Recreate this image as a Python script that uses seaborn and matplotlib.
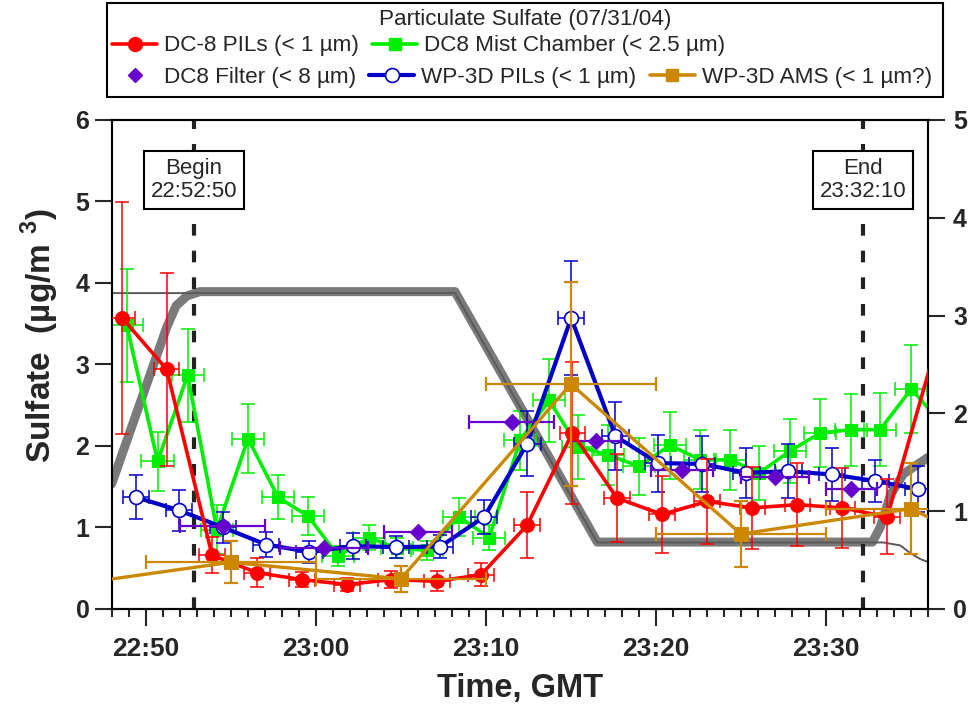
import numpy as np
import pandas as pd
import matplotlib
matplotlib.use("Agg")
import matplotlib.pyplot as plt
import matplotlib.transforms as mtransforms
import seaborn as sns
from matplotlib.lines import Line2D
from matplotlib.patches import Rectangle
from matplotlib.ticker import MultipleLocator, FuncFormatter

# ---------------------------------------------------------------- data
# DC-8 PILS sulfate (ug/m3), < 1 um
dc8_pils_time = ["22:48:37", "22:51:14", "22:53:54", "22:56:33", "22:59:11", "23:01:50",
                 "23:04:26", "23:07:08", "23:09:43", "23:12:26", "23:15:05", "23:17:43",
                 "23:20:22", "23:23:01", "23:25:40", "23:28:19", "23:30:58", "23:33:36",
                 "23:36:40"]
dc8_pils_so4 = [3.57, 2.94, 0.66, 0.445, 0.36, 0.30, 0.36, 0.34, 0.42, 1.03, 2.16, 1.36,
                1.16, 1.32, 1.24, 1.28, 1.24, 1.13, 3.37]
dc8_pils_err = [1.42, 1.18, 0.22, 0.18, 0.09, 0.08, 0.10, 0.12, 0.14, 0.40, 0.87, 0.54,
                0.47, 0.52, 0.50, 0.51, 0.49, 0.46, np.nan]
dc8_pils_halfwin = 0.75  # minutes

# DC-8 mist chamber sulfate, < 2.5 um
mist_time = ["22:48:53", "22:50:42", "22:52:28", "22:54:11", "22:56:01", "22:57:47",
             "22:59:33", "23:01:19", "23:03:08", "23:04:47", "23:06:33", "23:08:26",
             "23:10:12", "23:12:01", "23:13:43", "23:15:26", "23:17:12", "23:19:01",
             "23:20:50", "23:22:36", "23:24:22", "23:26:05", "23:27:54", "23:29:40",
             "23:31:29", "23:33:11", "23:35:01", "23:36:47"]
mist_so4 = [3.48, 1.81, 2.87, 0.97, 2.09, 1.37, 1.14, 0.65, 0.875, 0.745, 0.72, 1.13,
            0.875, 2.07, 2.56, 1.99, 1.89, 1.75, 2.01, 1.83, 1.83, 1.67, 1.94, 2.16,
            2.20, 2.20, 2.70, 2.28]
mist_err = [0.69, 0.36, 0.57, 0.30, 0.42, 0.27, 0.23, 0.12, 0.15, 0.12, 0.12, 0.23,
            0.15, 0.36, 0.51, 0.39, 0.37, 0.35, 0.41, 0.36, 0.37, 0.33, 0.39, 0.42,
            0.44, 0.45, 0.54, np.nan]
mist_halfwin = 0.95

# DC-8 filter sulfate, < 8 um
filter_time = ["22:54:32", "23:00:29", "23:06:00", "23:11:32", "23:16:29", "23:21:32",
               "23:27:01", "23:31:29"]
filter_so4 = [1.02, 0.745, 0.95, 2.29, 2.06, 1.71, 1.62, 1.47]
filter_halfwin = [2.5, 2.6, 2.0, 2.5, 1.45, 1.8, 2.0, 1.5]

# WP-3D PILS sulfate, < 1 um
p3_pils_time = ["22:49:26", "22:51:58", "22:54:33", "22:57:05", "22:59:37", "23:02:11",
                "23:04:43", "23:07:19", "23:09:54", "23:12:26", "23:15:01", "23:17:37",
                "23:20:08", "23:22:43", "23:25:19", "23:27:47", "23:30:22", "23:32:54",
                "23:35:26"]
p3_pils_so4 = [1.37, 1.21, 1.00, 0.79, 0.70, 0.77, 0.76, 0.765, 1.13, 2.03, 3.57, 2.12,
               1.79, 1.78, 1.67, 1.69, 1.65, 1.57, 1.47]
p3_pils_err = [0.27, 0.25, 0.19, 0.15, 0.13, 0.16, 0.14, 0.14, 0.21, 0.40, 0.70, 0.42,
               0.35, 0.34, 0.31, 0.33, 0.32, 0.26, 0.28]
p3_pils_halfwin = 0.78

# WP-3D AMS sulfate, 10-min averages
ams_time = ["22:45:00", "22:55:00", "23:05:00", "23:15:00", "23:25:00", "23:35:00",
            "23:45:00"]
ams_so4 = [0.28, 0.573, 0.37, 2.76, 0.92, 1.23, 0.21]
ams_err = [np.nan, 0.26, 0.16, 1.25, 0.41, 0.56, np.nan]
ams_halfwin = 5.0

# Aircraft altitude, km (right axis)
alt_wide_time = ["22:48:00", "22:51:14", "22:51:47", "22:52:25", "22:53:11", "23:08:11",
                 "23:16:33", "23:32:44", "23:33:12", "23:33:48", "23:34:33", "23:36:00"]
alt_wide_km = [1.28, 2.88, 3.10, 3.20, 3.245, 3.245, 0.684, 0.684, 0.84, 1.17, 1.38, 1.55]
alt_narrow_time = ["22:48:00", "23:08:11", "23:16:33", "23:33:22", "23:34:22", "23:34:58",
                   "23:35:33", "23:36:00"]
alt_narrow_km = [3.23, 3.23, 0.68, 0.68, 0.65, 0.57, 0.51, 0.48]

# Sampling window
begin_label, end_label = "22:52:50", "23:32:10"

x_major = [50, 60, 70, 80, 90]


def minutes(ts):
    """Minutes after 22:00 GMT."""
    td = pd.to_timedelta(pd.Series(ts)) - pd.Timedelta(hours=22)
    return (td.dt.total_seconds() / 60.0).to_numpy()


# ---------------------------------------------------------------- style
sns.set_theme(style="ticks")
plt.rcParams.update({
    "font.family": ["Liberation Sans", "DejaVu Sans"],
    "font.weight": "bold",
    "axes.labelweight": "bold",
    "axes.linewidth": 1.5,
    "mathtext.fontset": "custom",
    "mathtext.rm": "Liberation Sans:bold",
    "mathtext.bf": "Liberation Sans:bold",
})

RED, GREEN, PURPLE, BLUE, GOLD = "#FF0000", "#00EE00", "#6600CC", "#0000C8", "#CC8800"

fig = plt.figure(figsize=(9.74, 7.10), dpi=100)
ax = fig.add_axes([0.1147, 0.1423, 0.8381, 0.6887])
ax2 = ax.twinx()
ax.set_zorder(ax2.get_zorder() + 1)
ax.patch.set_visible(False)

# altitude traces behind the sulfate data
sns.lineplot(x=minutes(alt_wide_time), y=alt_wide_km, ax=ax2, color="#7A7A7A", lw=6.5,
             sort=False, estimator=None, solid_capstyle="round", solid_joinstyle="round")
sns.lineplot(x=minutes(alt_narrow_time), y=alt_narrow_km, ax=ax2, color="#5A5A5A", lw=1.4,
             sort=False, estimator=None)


def series(t, y, yerr, xerr, color, z, **line_kw):
    x = minutes(t)
    y = np.asarray(y, float)
    yerr = np.asarray(yerr, float)
    xerr = np.broadcast_to(np.asarray(xerr, float), x.shape)
    ok = np.isfinite(yerr)
    ax.errorbar(x[ok], y[ok], xerr=xerr[ok], yerr=yerr[ok], fmt="none", ecolor=color,
                elinewidth=1.1, capsize=5, capthick=1.1, zorder=z)
    sns.lineplot(x=x, y=y, ax=ax, color=color, sort=False, estimator=None,
                 zorder=z + 0.05, **line_kw)


series(mist_time, mist_so4, mist_err, mist_halfwin, GREEN, 2.0,
       lw=2.6, marker="s", markersize=9, markeredgecolor=GREEN)
series(p3_pils_time, p3_pils_so4, p3_pils_err, p3_pils_halfwin, BLUE, 2.2,
       lw=3.0, marker="o", markersize=10, markerfacecolor="white",
       markeredgecolor=BLUE, markeredgewidth=1.2)

fx = minutes(filter_time)
ax.errorbar(fx, filter_so4, xerr=filter_halfwin, fmt="none", ecolor=PURPLE,
            elinewidth=1.6, capsize=5, capthick=1.6, zorder=2.4)
sns.scatterplot(x=fx, y=filter_so4, ax=ax, marker="D", s=70, color=PURPLE,
                edgecolor=PURPLE, zorder=2.45, legend=False)

series(dc8_pils_time, dc8_pils_so4, dc8_pils_err, dc8_pils_halfwin, RED, 2.6,
       lw=2.6, marker="o", markersize=10, markeredgecolor=RED)

ams_x = minutes(ams_time)
ams_ok = np.isfinite(np.asarray(ams_err, float))
ax.errorbar(ams_x[ams_ok], np.asarray(ams_so4)[ams_ok], xerr=ams_halfwin,
            yerr=np.asarray(ams_err)[ams_ok], fmt="none", ecolor=GOLD, elinewidth=1.6,
            capsize=5, capthick=1.6, zorder=2.8)
sns.lineplot(x=ams_x, y=ams_so4, ax=ax, color=GOLD, lw=2.4, marker="s", markersize=10,
             markeredgecolor=GOLD, sort=False, estimator=None, zorder=2.85)

# sampling window markers
trans = mtransforms.blended_transform_factory(ax.transData, ax.transAxes)
for word, stamp in (("Begin", begin_label), ("End", end_label)):
    tx = minutes([stamp])[0]
    ax.axvline(tx, color="#222222", lw=3, ls=(0, (2.8, 3.6)), zorder=1.5)
    ax.text(tx, 0.877, f"{word}\n{stamp}", transform=trans, ha="center", va="center",
            fontsize=16, fontweight="normal", linespacing=1.15, zorder=6,
            bbox=dict(boxstyle="square,pad=0.3", fc="white", ec="black", lw=1.5))

# ---------------------------------------------------------------- axes
ax.set_xlim(48, 96)
ax.set_ylim(0, 6)
ax2.set_ylim(0, 5)
ax.xaxis.set_major_locator(plt.FixedLocator(x_major))
ax.xaxis.set_minor_locator(MultipleLocator(1))
ax.xaxis.set_major_formatter(FuncFormatter(lambda v, p: f"{22 + int(v) // 60}:{int(v) % 60:02d}"))
ax.yaxis.set_major_locator(MultipleLocator(1))
ax2.yaxis.set_major_locator(MultipleLocator(1))

ax.tick_params(axis="x", which="major", direction="out", length=12, width=1.5,
               labelsize=19, pad=8)
ax.tick_params(axis="x", which="minor", direction="out", length=6, width=1.5)
ax.tick_params(axis="y", direction="out", length=12, width=1.5, labelsize=18, pad=4)
ax2.tick_params(axis="y", direction="out", length=12, width=1.5, labelsize=18, pad=6)
for a in (ax, ax2):
    for s in a.spines.values():
        s.set_linewidth(1.5)
        s.set_color("black")

ax.set_xlabel("Time, GMT", fontsize=23.5, fontweight="bold", labelpad=9)
ax.set_ylabel("Sulfate  (µg/m $^{3}$)", fontsize=24, fontweight="bold")
ax.yaxis.set_label_coords(-0.062, 0.558)
ax2.set_ylabel("")

# ---------------------------------------------------------------- legend
def handle(color, marker, **kw):
    return Line2D([], [], color=color, marker=marker, markeredgecolor=color, **kw)

row1 = [handle(RED, "o", lw=2.6, markersize=10),
        handle(GREEN, "s", lw=2.6, markersize=9)]
row1_labels = ["DC-8 PILs (< 1 µm)", "DC8 Mist Chamber (< 2.5 µm)"]
row2 = [handle(PURPLE, "D", ls="none", markersize=7),
        handle(BLUE, "o", lw=3, markersize=10, markerfacecolor="white", markeredgewidth=1.2),
        handle(GOLD, "s", lw=2.6, markersize=9)]
row2_labels = ["DC8 Filter (< 8 µm)", "WP-3D PILs (< 1 µm)", "WP-3D AMS (< 1 µm?)"]

leg_kw = dict(loc="center left", frameon=False, prop={"size": 16.2, "weight": "normal"},
              handlelength=2.0, handletextpad=0.3, columnspacing=0.6, borderpad=0,
              borderaxespad=0)
fig.legend(row1, row1_labels, ncol=2, bbox_to_anchor=(112 / 974, 1 - 46 / 710), **leg_kw)
fig.legend(row2, row2_labels, ncol=3, bbox_to_anchor=(112 / 974, 1 - 77 / 710), **leg_kw)
fig.text(525 / 974, 1 - 19 / 710, "Particulate Sulfate (07/31/04)", ha="center",
         va="center", fontsize=16.2, fontweight="normal")
fig.add_artist(Rectangle((107 / 974, 1 - 97 / 710), (943 - 107) / 974, 94 / 710,
                         transform=fig.transFigure, fill=False, ec="black", lw=1.5))

fig.savefig("out.png", dpi=100)
